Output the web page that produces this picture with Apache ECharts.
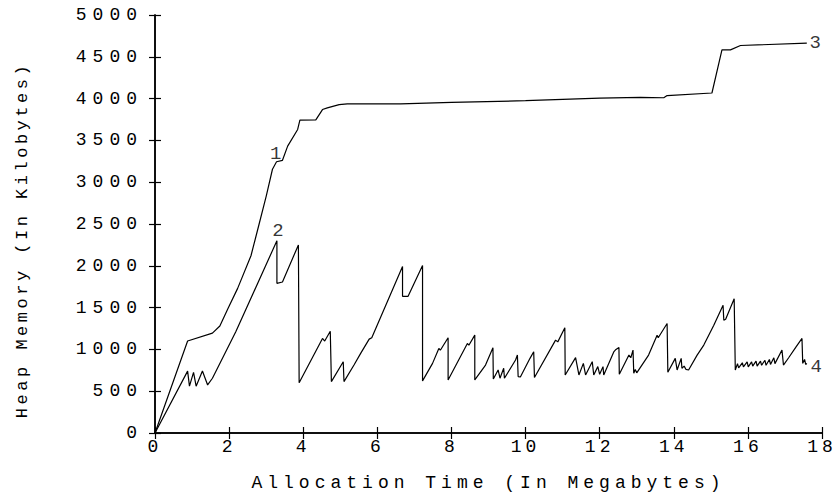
<!DOCTYPE html>
<html>
<head>
<meta charset="utf-8">
<script src="https://cdn.jsdelivr.net/npm/echarts@6/dist/echarts.min.js"></script>
<style>
html,body{margin:0;padding:0;background:#fff;}
#c{width:838px;height:497px;}
#c svg text{letter-spacing:6px;}
</style>
</head>
<body>
<div id="c"></div>
<script>
// Curve 1 (upper line)
const x1 = [0,0.88,1.55,1.75,1.96,2.23,2.59,2.81,3.0,3.17,3.28,3.44,3.58,3.85,3.91,4.34,4.52,4.65,4.97,5.19,6.63,8,10,12,13.1,13.73,13.82,15.03,15.30,15.53,15.80,17.59];
const y1 = [0,1100,1195,1280,1480,1730,2120,2500,2830,3155,3245,3262,3432,3631,3742,3745,3869,3889,3928,3937,3937,3955,3975,4005,4015,4010,4036,4067,4583,4583,4635,4663];
// Curve 2 (lower sawtooth line)
const x2 = [0,0.88,0.93,1.04,1.11,1.28,1.42,1.55,2.18,3.29,3.29,3.44,3.87,3.89,4.52,4.58,4.73,4.76,5.08,5.10,5.37,5.55,5.78,5.85,6.68,6.68,6.83,7.22,7.22,7.49,7.66,7.70,7.91,7.91,8.43,8.47,8.63,8.63,8.92,9.12,9.13,9.26,9.31,9.41,9.43,9.73,9.78,9.80,9.86,10.12,10.22,10.24,10.81,10.87,11.06,11.07,11.35,11.44,11.56,11.62,11.80,11.84,11.95,12.00,12.09,12.11,12.38,12.44,12.52,12.53,12.79,12.84,12.90,12.92,12.96,13.00,13.32,13.55,13.58,13.82,13.84,14.04,14.09,14.20,14.22,14.28,14.33,14.40,14.63,14.81,15.08,15.33,15.35,15.40,15.63,15.66,15.72,15.75,15.85,15.88,15.98,16.01,16.10,16.13,16.22,16.25,16.34,16.37,16.46,16.49,16.58,16.61,16.70,16.73,16.92,16.96,17.10,17.30,17.46,17.48,17.53,17.56,17.59];
const y2 = [0,740,560,726,560,742,575,655,1210,2300,1790,1806,2250,600,1131,1100,1218,615,853,615,813,952,1123,1140,1992,1635,1635,2004,623,833,1012,990,1139,635,1071,1050,1171,635,813,1020,646,754,655,774,655,873,932,675,670,893,972,663,1111,1090,1260,694,901,694,833,694,853,694,794,702,794,694,970,1000,1024,702,932,900,992,714,760,720,932,1170,1140,1310,726,893,754,893,774,800,760,754,932,1052,1290,1528,1349,1360,1607,754,830,780,840,790,850,790,850,800,860,800,860,810,870,810,880,820,900,830,992,813,900,1030,1131,833,880,820,833];
// Curve number labels: [x, y, text]
const curveLabels = [[3.34,3333,'1'],[3.37,2420,'2'],[17.9,4663,'3'],[17.9,794,'4']];
const xTicks = {min:0, max:18, interval:2};
const yTicks = {min:0, max:5000, interval:500};
const xTitle = 'Allocation Time (In Megabytes)';
const yTitle = 'Heap Memory (In Kilobytes)';

const FONT = 'Liberation Mono';
const zip = (a,b) => a.map((v,i)=>[v,b[i]]);
const chart = echarts.init(document.getElementById('c'), null, {renderer:'svg'});
const axisLine = {show:true, lineStyle:{color:'#000', width:1.5}};
const tick = {show:true, inside:true, length:6, lineStyle:{color:'#000', width:1.2}};
const lbl = {color:'#000', fontFamily:FONT, fontSize:18, formatter:v=>String(v)};
chart.setOption({
  animation:false,
  backgroundColor:'#fff',
  grid:{left:155, right:16, top:15, bottom:62},
  xAxis:[
    {type:'value', min:xTicks.min, max:xTicks.max, interval:xTicks.interval, axisLine, axisTick:tick,
     axisLabel:{...lbl, margin:5}, splitLine:{show:false},
     name:xTitle, nameLocation:'middle', nameGap:41, nameTextStyle:{color:'#000', fontFamily:FONT, fontSize:18}},
    {type:'value', position:'top', min:xTicks.min, max:xTicks.max, interval:xTicks.interval, axisLine, axisTick:tick,
     axisLabel:{show:false}, splitLine:{show:false}}
  ],
  yAxis:[
    {type:'value', min:yTicks.min, max:yTicks.max, interval:yTicks.interval, axisLine, axisTick:tick,
     axisLabel:{...lbl, margin:12}, splitLine:{show:false},
     name:yTitle, nameLocation:'middle', nameGap:124, nameTextStyle:{color:'#000', fontFamily:FONT, fontSize:17, padding:[0,32,0,0]}},
    {type:'value', position:'right', min:yTicks.min, max:yTicks.max, interval:yTicks.interval, axisLine, axisTick:tick,
     axisLabel:{show:false}, splitLine:{show:false}}
  ],
  series:[
    {type:'line', data:zip(x1,y1), showSymbol:false, symbol:'none', lineStyle:{color:'#000', width:1.2}},
    {type:'line', data:zip(x2,y2), showSymbol:false, symbol:'none', lineStyle:{color:'#000', width:1.2}},
    {type:'scatter', data:curveLabels.map(d=>({value:[d[0],d[1]], label:{formatter:d[2]}})),
     symbol:'circle', symbolSize:1, itemStyle:{color:'rgba(0,0,0,0)'},
     label:{show:true, position:'inside', color:'#000', fontFamily:FONT, fontSize:19}}
  ]
});
const xTickTexts = [];
for (let v = xTicks.min; v <= xTicks.max; v += xTicks.interval) xTickTexts.push(String(v));
document.querySelectorAll('#c svg text').forEach(t=>{
  const s = t.textContent;
  if (s === xTitle) t.style.letterSpacing = '5px';
  else if (s === yTitle) t.style.letterSpacing = '3.5px';
  else if (t.getAttribute('text-anchor') !== 'end' && xTickTexts.includes(s)) t.style.letterSpacing = '4px';
});
</script>
</body>
</html>
